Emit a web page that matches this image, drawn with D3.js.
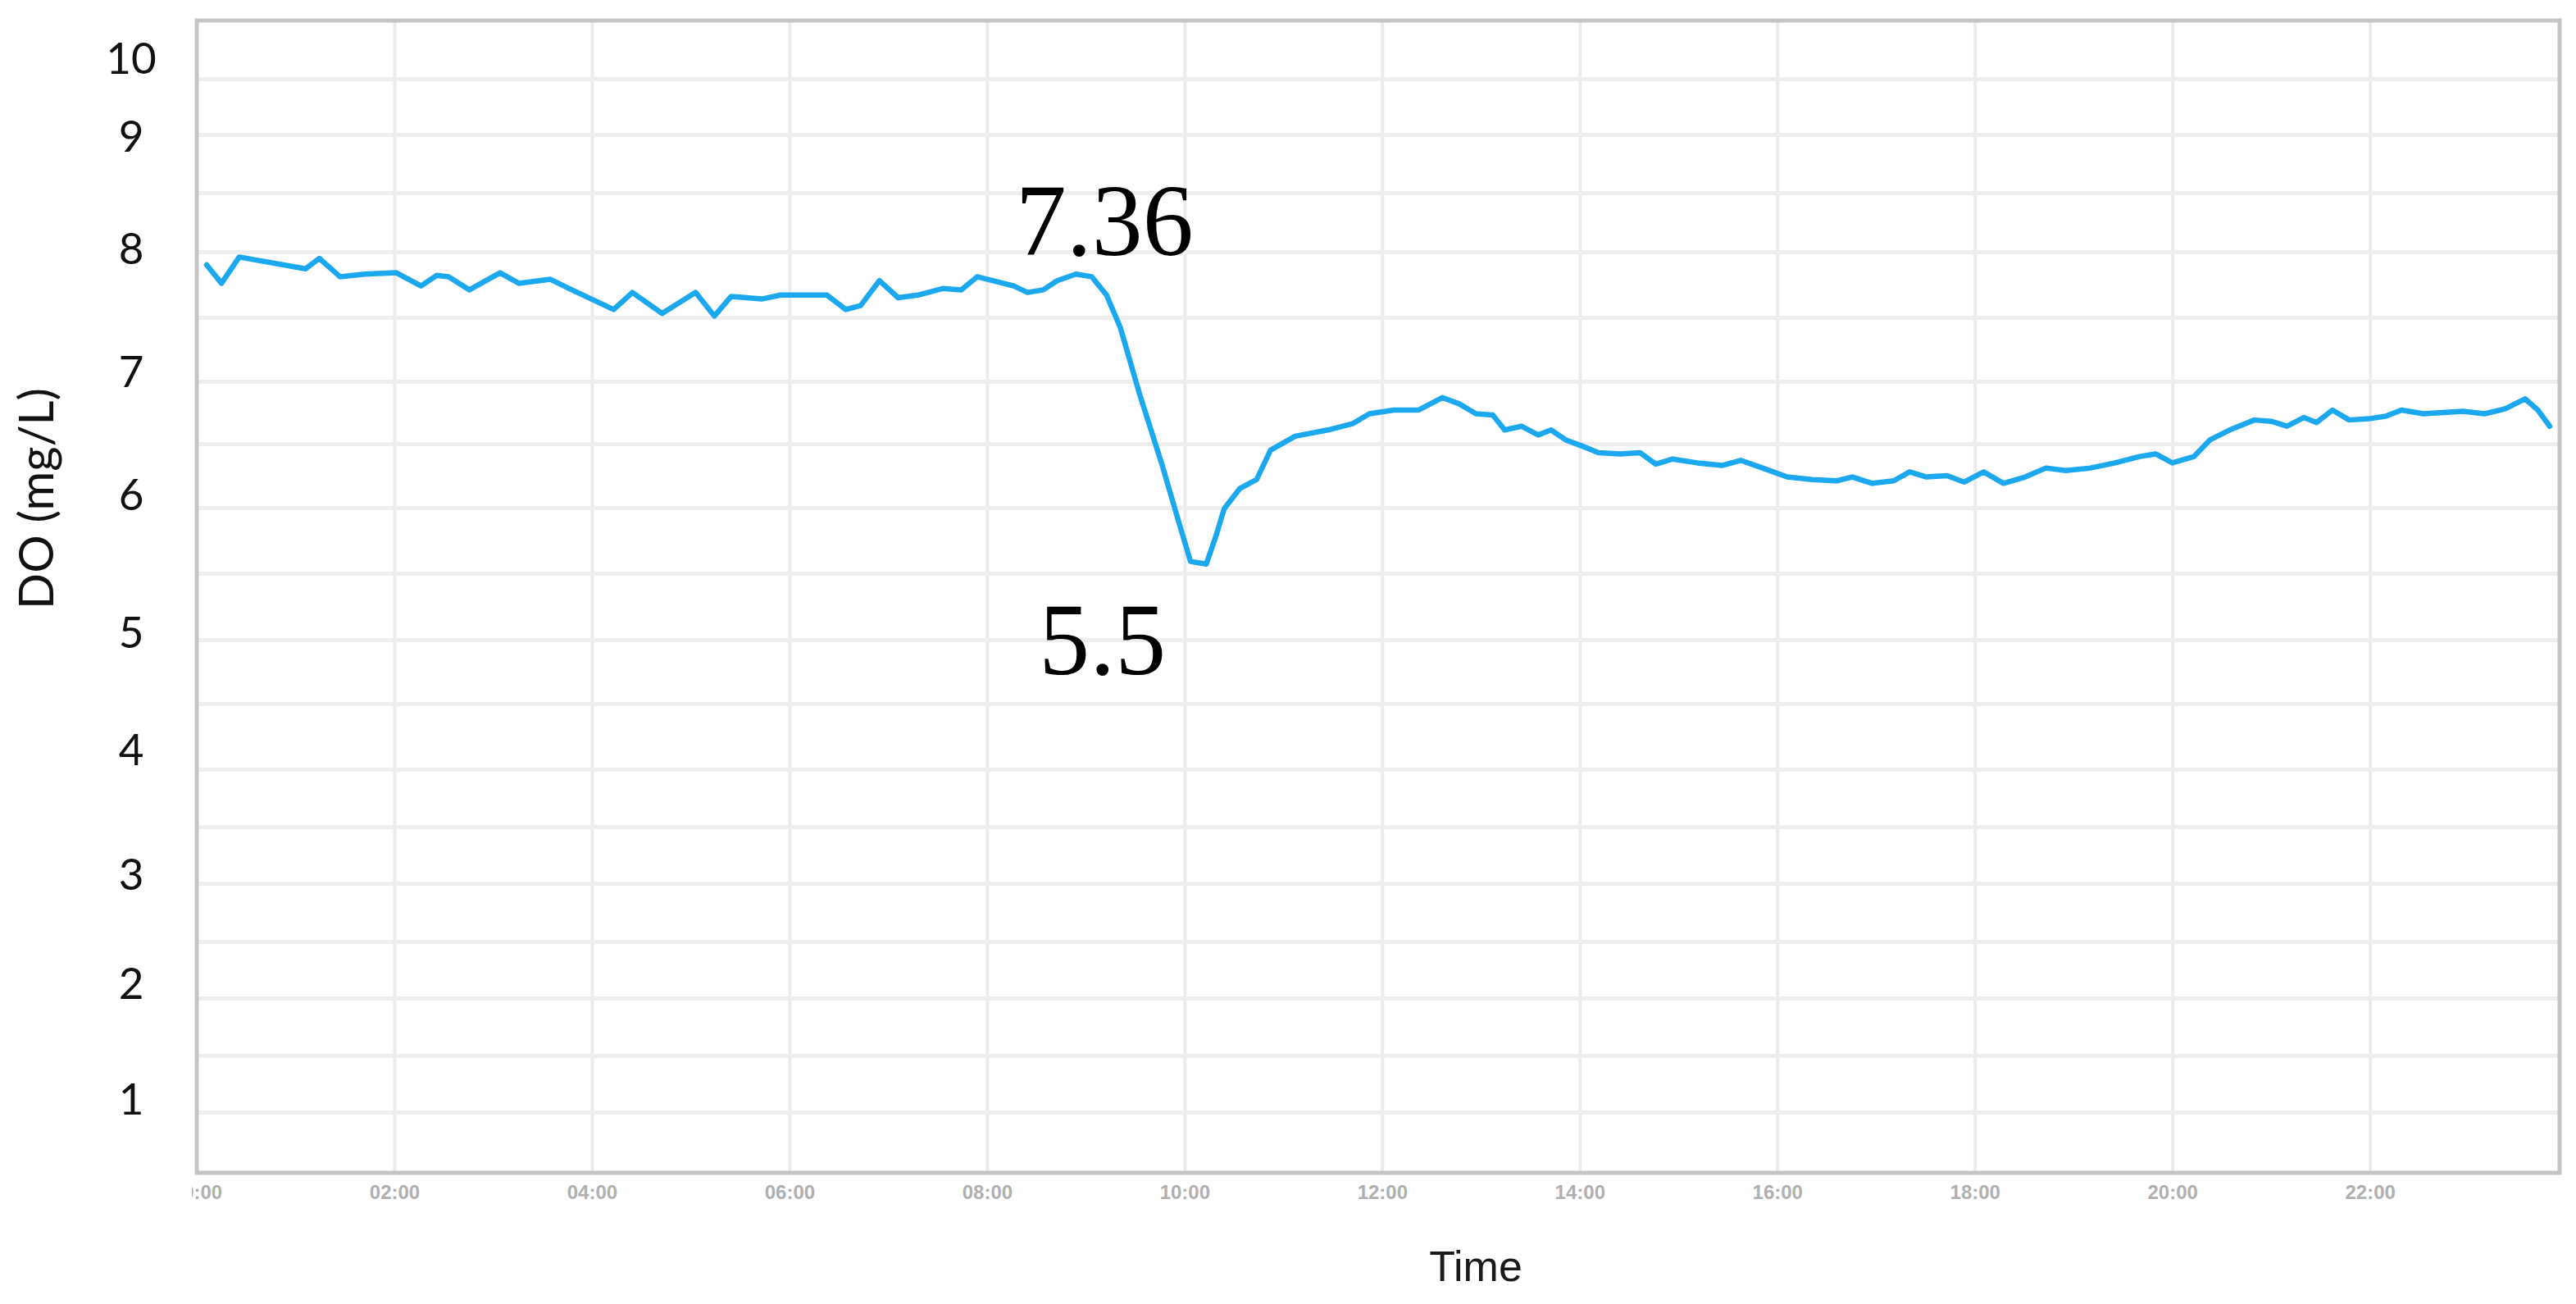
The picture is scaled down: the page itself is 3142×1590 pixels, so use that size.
<!DOCTYPE html>
<html><head><meta charset="utf-8">
<script src="https://cdn.jsdelivr.net/npm/d3@7"></script>
<style>html,body{margin:0;padding:0;background:#fff;} svg{display:block}</style>
</head><body>
<svg id="chart" width="3142" height="1590"></svg>
<script>
// ---------------- data ----------------
const times = [0.10,0.25,0.43,1.10,1.24,1.45,1.70,2.02,2.27,2.43,2.55,2.76,3.07,3.26,3.58,3.77,4.22,4.41,4.71,5.05,5.24,5.41,5.72,5.91,6.38,6.57,6.72,6.91,7.10,7.30,7.55,7.74,7.90,8.27,8.41,8.57,8.71,8.90,9.06,9.21,9.35,9.54,9.77,9.93,10.06,10.22,10.32,10.40,10.56,10.73,10.87,11.12,11.45,11.70,11.87,12.12,12.37,12.61,12.78,12.95,13.12,13.24,13.41,13.58,13.71,13.86,14.03,14.19,14.41,14.61,14.77,14.94,15.19,15.44,15.63,15.85,16.10,16.35,16.60,16.76,16.96,17.18,17.34,17.51,17.72,17.89,18.09,18.29,18.51,18.72,18.92,19.17,19.42,19.67,19.83,20.00,20.22,20.38,20.58,20.83,21.00,21.16,21.33,21.46,21.62,21.79,21.99,22.16,22.32,22.54,22.74,22.94,23.16,23.37,23.57,23.70,23.82];
const doValues = [7.90,7.76,7.96,7.87,7.95,7.81,7.83,7.84,7.74,7.82,7.81,7.71,7.84,7.76,7.79,7.72,7.56,7.69,7.53,7.69,7.51,7.66,7.64,7.67,7.67,7.56,7.59,7.78,7.65,7.67,7.72,7.71,7.81,7.74,7.69,7.71,7.78,7.83,7.81,7.67,7.42,6.91,6.34,5.92,5.59,5.57,5.79,5.99,6.15,6.22,6.45,6.56,6.61,6.66,6.74,6.77,6.77,6.87,6.82,6.74,6.73,6.61,6.64,6.57,6.61,6.53,6.48,6.43,6.42,6.43,6.34,6.38,6.35,6.33,6.37,6.31,6.24,6.22,6.21,6.24,6.19,6.21,6.28,6.24,6.25,6.20,6.28,6.19,6.24,6.31,6.29,6.31,6.35,6.40,6.42,6.35,6.40,6.53,6.61,6.69,6.68,6.64,6.71,6.67,6.77,6.69,6.70,6.72,6.77,6.74,6.75,6.76,6.74,6.78,6.86,6.77,6.64];
const xTickHours = [0,2,4,6,8,10,12,14,16,18,20,22];
const xTickLabels = ["00:00","02:00","04:00","06:00","08:00","10:00","12:00","14:00","16:00","18:00","20:00","22:00"];
const yTickValues = [1,2,3,4,5,6,7,8,9,10];
const yGridValues = [0.5,1,1.5,2,2.5,3,3.5,4,4.5,5,5.5,6,6.5,7,7.5,8,8.5,9,9.5,10];
const annotationTexts = ["7.36","5.5"];
const annotationTimes = [9.19,9.17];
const annotationValues = [7.975,4.73];
const xTitle = "Time";
const yTitle = "DO (mg/L)";

// ---------------- layout ----------------
const W = 3142, H = 1590;
const plot = {left:240, right:3122, top:25, bottom:1430};
// pixel rows of the (stretched) source grid, one per yGridValues entry
const gridRows = [1429,1356,1287,1217,1148,1077,1008,938,858,780,699,619,541,465,387,307,235,164,96,25];
// pixel rows of the pasted tick labels, one per yTickValues entry
const labelRows = [1342,1201,1068,916,773,605,455,305,168,73];

const svg = d3.select("#chart");
const x = d3.scaleLinear().domain([0, 23.92]).range([plot.left, plot.right]);
const y = d3.scaleLinear().domain(yGridValues).range(gridRows);
const yLab = d3.scaleLinear().domain(yTickValues).range(labelRows);

svg.append("rect").attr("x",0).attr("y",0).attr("width",W).attr("height",H).attr("fill","#fff");

// vertical gridlines
const gx = svg.append("g").attr("transform",`translate(0,${plot.bottom})`)
  .call(d3.axisBottom(x).tickValues(xTickHours.slice(1)).tickSize(-(plot.bottom-plot.top)).tickFormat(""));
gx.select(".domain").remove();
gx.selectAll("line").attr("stroke","#ebebeb").attr("stroke-width",4);

// horizontal gridlines
const gy = svg.append("g").attr("transform",`translate(${plot.left},0)`)
  .call(d3.axisLeft(y).tickValues(yGridValues.slice(1,-1)).tickSize(-(plot.right-plot.left)).tickFormat(""));
gy.select(".domain").remove();
gy.selectAll("line").attr("stroke","#eeeeee").attr("stroke-width",5);

// frame
svg.append("rect").attr("x",plot.left).attr("y",plot.top)
  .attr("width",plot.right-plot.left).attr("height",plot.bottom-plot.top)
  .attr("fill","none").attr("stroke","#c4c4c4").attr("stroke-width",5);

// data line
const pts = times.map((t,i)=>({t, v:doValues[i]}));
svg.append("path").datum(pts)
  .attr("d", d3.line().x(d=>x(d.t)).y(d=>y(d.v)))
  .attr("fill","none").attr("stroke","#1ca8ef").attr("stroke-width",6.5)
  .attr("stroke-linejoin","round").attr("stroke-linecap","round");

// x axis labels (first one clipped like the source)
svg.append("clipPath").attr("id","xclip").append("rect")
  .attr("x",234).attr("y",plot.bottom).attr("width",W).attr("height",H-plot.bottom);
const ax = svg.append("g").attr("clip-path","url(#xclip)")
  .append("g").attr("transform",`translate(0,${plot.bottom})`)
  .call(d3.axisBottom(x).tickValues(xTickHours).tickFormat((d,i)=>xTickLabels[i]).tickSize(0).tickPadding(15));
ax.select(".domain").remove();
ax.selectAll("text").attr("font-family","Liberation Sans, Arial, sans-serif")
  .attr("font-size",24).attr("font-weight","bold").attr("fill","#b0b0b0");

// y axis labels
const ay = svg.append("g").attr("transform","translate(160,0)")
  .call(d3.axisLeft(yLab).tickValues(yTickValues).tickSize(0).tickPadding(0));
ay.select(".domain").remove();
ay.selectAll("text").attr("text-anchor","middle").attr("x",0)
  .attr("font-family","Lato, sans-serif").attr("font-size",53).attr("fill","#111");

// axis titles
svg.append("text").attr("x",1800).attr("y",1562).attr("text-anchor","middle")
  .attr("font-family","Liberation Sans, Arial, sans-serif").attr("font-size",52).attr("fill","#1a1a1a")
  .text(xTitle);
svg.append("text").attr("transform","translate(65,608) rotate(-90)").attr("text-anchor","middle")
  .attr("font-family","Lato, sans-serif").attr("font-size",58).attr("fill","#111")
  .text(yTitle);

// annotations
svg.selectAll("text.ann").data(annotationTexts).enter().append("text").attr("class","ann")
  .attr("x",(d,i)=>x(annotationTimes[i])).attr("y",(d,i)=>y(annotationValues[i]))
  .attr("text-anchor","middle").attr("font-family","Liberation Serif, Times New Roman, serif")
  .attr("font-size",124).attr("fill","#000").text(d=>d);
</script>
</body></html>
